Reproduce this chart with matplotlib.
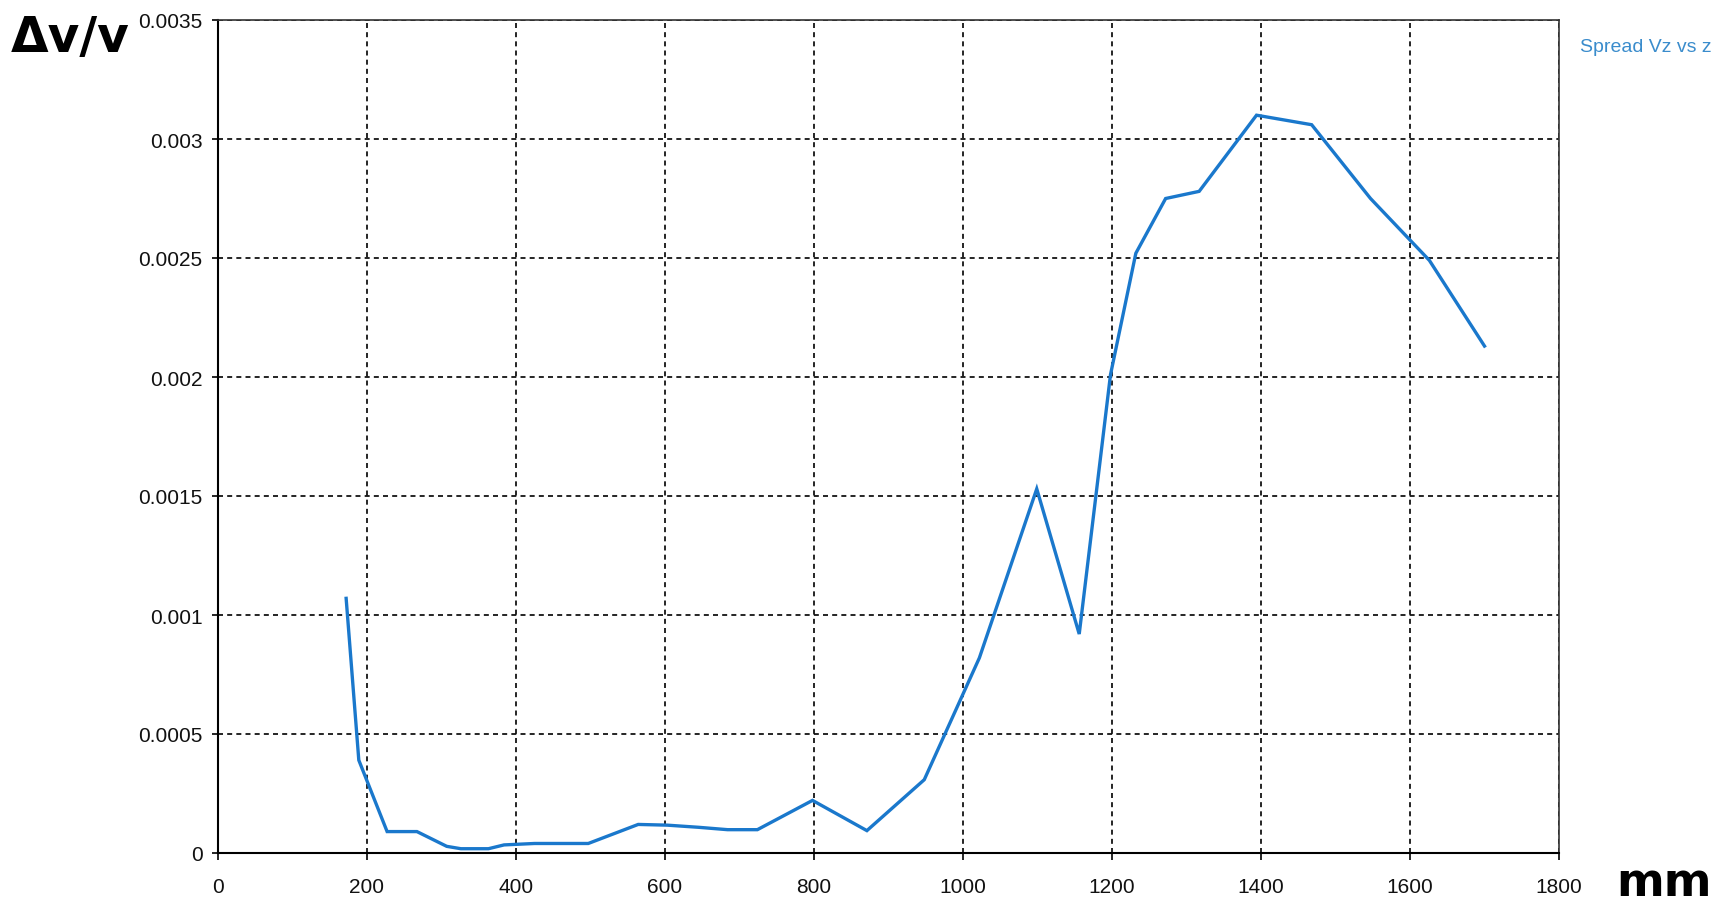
import matplotlib
matplotlib.use("Agg")
import matplotlib.pyplot as plt
from matplotlib.ticker import FixedLocator

z_mm = [172, 189, 227, 267, 307, 326, 363, 384, 425, 497, 564, 603, 645, 684, 724,
        798, 871, 948, 1022, 1099, 1156, 1198, 1232, 1272, 1317, 1394, 1468, 1547, 1626, 1700]
spread = [0.00107, 0.00039, 0.00009, 0.00009, 0.000028, 0.000018, 0.000018, 0.000034,
          0.00004, 0.00004, 0.00012, 0.000117, 0.000108, 0.000098, 0.000098, 0.000221,
          0.000094, 0.000308, 0.00082, 0.00153, 0.00092, 0.00201, 0.00252, 0.00275,
          0.00278, 0.0031, 0.00306, 0.00275, 0.00249, 0.00213]
x_ticks = [0, 200, 400, 600, 800, 1000, 1200, 1400, 1600, 1800]
y_ticks = [0, 0.0005, 0.001, 0.0015, 0.002, 0.0025, 0.003, 0.0035]
y_labels = ["0", "0.0005", "0.001", "0.0015", "0.002", "0.0025", "0.003", "0.0035"]
series_name = "Spread Vz vs z"

tick_font = ["Liberation Sans", "DejaVu Sans"]

fig = plt.figure(figsize=(17.32, 9.04), dpi=100)
ax = fig.add_axes([218/1732, 50/904, (1559-218)/1732, (854-21)/904])

ax.plot(z_mm, spread, color="#1a78cc", lw=2.4, solid_joinstyle="miter")

ax.set_xlim(0, 1800)
ax.set_ylim(0, 0.0035)
ax.xaxis.set_major_locator(FixedLocator(x_ticks))
ax.yaxis.set_major_locator(FixedLocator(y_ticks))
ax.set_yticklabels(y_labels)
ax.set_xticklabels([str(t) for t in x_ticks])

for lbl in ax.get_xticklabels() + ax.get_yticklabels():
    lbl.set_family(tick_font)
    lbl.set_fontsize(15)
    lbl.set_color("#111111")

ax.tick_params(axis="x", direction="out", length=5, width=1.2, pad=12)
ax.tick_params(axis="y", direction="out", length=4, width=1.2, pad=7)

ax.grid(True, color="black", linestyle=(0, (3, 2.5)), lw=1.2)
ax.set_axisbelow(True)

ax.spines["left"].set_color("black")
ax.spines["bottom"].set_color("black")
ax.spines["left"].set_linewidth(1.5)
ax.spines["bottom"].set_linewidth(1.5)
ax.spines["top"].set_color("#333333")
ax.spines["right"].set_color("#333333")
ax.spines["top"].set_linewidth(1.2)
ax.spines["right"].set_linewidth(1.2)

fig.text(11/1732, 1 - 38/904, "Δv/v", fontsize=35, fontweight="bold",
         family="DejaVu Sans", ha="left", va="center", color="black")
fig.text(1616/1732, 1 - 884/904, "mm", fontsize=33, fontweight="bold",
         family="DejaVu Sans", ha="left", va="center", color="black")
fig.text(1580/1732, 1 - 48/904, series_name, fontsize=14, family=tick_font,
         ha="left", va="center", color="#3a8ccc")

fig.savefig("out.png", dpi=100, facecolor="white")
